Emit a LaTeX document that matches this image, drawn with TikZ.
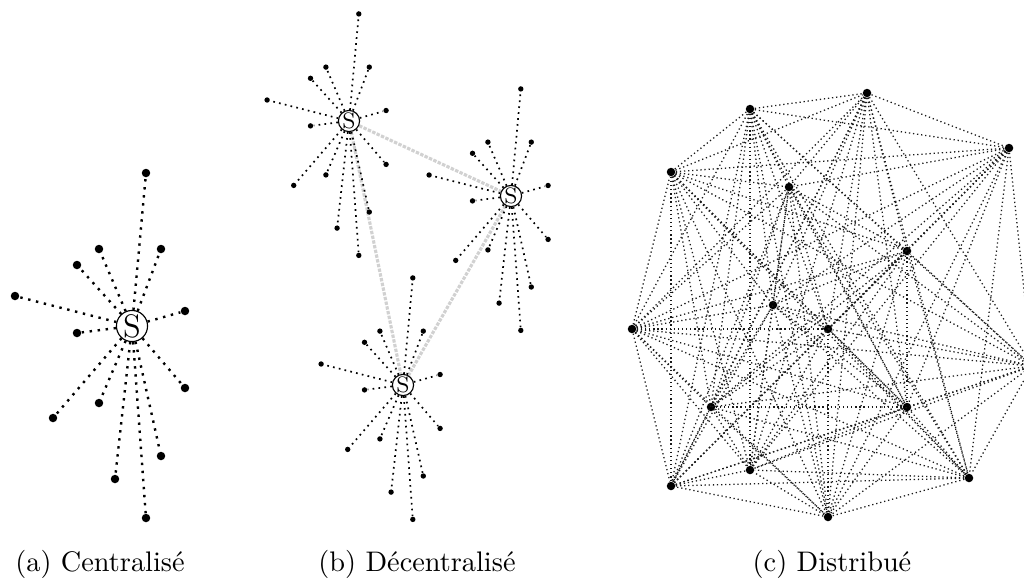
\documentclass[tikz,border=0pt]{standalone}
\usepackage{tikz}
\usetikzlibrary{backgrounds}

\tikzset{
  feuille/.style={circle, fill=black, inner sep=0pt, minimum size=3pt},
  serveur/.style={circle, draw, line width=0.4pt, fill=white, inner sep=0pt,
    minimum size=11pt, font=\fontsize{11.5}{13}\selectfont},
  lien/.style={line width=0.85pt, dotted},
  passerelle/.style={line width=1.1pt, black!18, dash pattern=on 1.2pt off 0.5pt},
  maille/.style={line width=0.45pt, black!90, dash pattern=on 0.45pt off 1pt},
  legende/.style={anchor=base, font=\fontsize{10}{12}\selectfont}
}

% une etoile : serveur au centre, 13 clients autour
\newcommand{\etoile}[1]{
  \node[serveur] (#1) at (0,0) {S};
  \foreach \x/\y [count=\i] in {14/-153, -33/-77, 29/-77, -55/-61, -117/-30,
      53/-15, -55/7, 53/62, -33/77, -79/92, 29/130, -17/153, 14/192}
  {
    \node[feuille] (#1-\i) at (\x,\y) {};
    \draw[lien] (#1) -- (#1-\i);
  }
}

\begin{document}
\begin{tikzpicture}[x=0.3535pt, y=-0.3535pt]
\useasboundingbox (0,0) rectangle (1024,581);

% (a) centralise
\begin{scope}[shift={(132,326)}]
\etoile{A}
\end{scope}
\node[legende] (lega) at (100,571) {(a) Centralisé};

% (b) decentralise
\begin{scope}[feuille/.append style={minimum size=1.9pt},
    serveur/.append style={minimum size=7.5pt, font=\fontsize{7.9}{9}\selectfont},
    lien/.style={line width=0.6pt, dash pattern=on 0.6pt off 1.5pt}]
\begin{scope}[shift={(349,121)}, scale=0.7] \etoile{B1} \end{scope}
\begin{scope}[shift={(511,196)}, scale=0.7] \etoile{B2} \end{scope}
\begin{scope}[shift={(403,385)}, scale=0.7] \etoile{B3} \end{scope}
\end{scope}
\begin{pgfonlayer}{background}
\draw[passerelle] (B1) -- (B2);
\draw[passerelle] (B1) -- (B3);
\draw[passerelle] (B2) -- (B3);
\end{pgfonlayer}
\node[legende] (legb) at (417,571) {(b) Décentralisé};

% (c) distribue
\foreach \p [count=\i] in {(632,329), (671,172), (750,109), (867,93),
    (1009,148), (1032,366), (969,478), (828,517), (671,486), (750,470),
    (711,407), (907,407), (828,329), (773,305), (907,251), (789,187)}
  \node[feuille] (c\i) at \p {};
\foreach \i in {1,...,15}
{
  \pgfmathtruncatemacro{\k}{\i+1}
  \foreach \j in {\k,...,16}
    \draw[maille] (c\i) -- (c\j);
}
\node[legende] (legc) at (832,571) {(c) Distribué};
\end{tikzpicture}
\end{document}
